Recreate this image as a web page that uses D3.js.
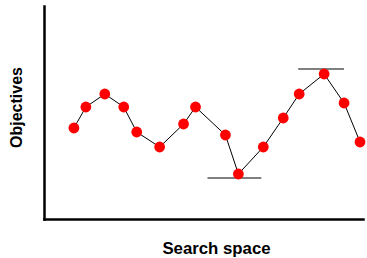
<!DOCTYPE html>
<html>
<head>
<meta charset="utf-8">
<script src="https://cdn.jsdelivr.net/npm/d3@7"></script>
<style>
  html, body { margin: 0; padding: 0; background: #fff; }
  svg { display: block; }
  text { font-family: "Liberation Sans", Arial, sans-serif; font-weight: bold; fill: #000; }
</style>
</head>
<body>
<div id="chart"></div>
<script>
  // positions along the search space and the objective value at each sample
  const searchPos = [30, 42, 61, 80, 93, 116, 140, 152, 182, 195, 220, 240, 256, 281, 301, 317];
  const objective = [91, 112, 125, 112, 87, 72, 95, 112, 84, 45, 72, 101, 125, 145, 116, 77];

  // local minimum / maximum markers: [x0, x1, y]
  const minMark = [164, 218, 41];
  const maxMark = [255, 301, 150];

  const xLabel = "Search space";
  const yLabel = "Objectives";

  const width = 367, height = 258;

  const svg = d3.select("#chart").append("svg")
    .attr("width", width)
    .attr("height", height);

  const x = d3.scaleLinear().domain([0, 320]).range([44, 363]);
  const y = d3.scaleLinear().domain([0, 213]).range([219, 6]);

  // axes without ticks, just the domain lines
  svg.append("g")
    .attr("transform", `translate(0,${y(0)})`)
    .call(d3.axisBottom(x).ticks(0).tickSizeOuter(0))
    .call(g => g.select(".domain").attr("stroke-width", 2.5).attr("stroke-linecap", "square"));

  svg.append("g")
    .attr("transform", `translate(${x(0)},0)`)
    .call(d3.axisLeft(y).ticks(0).tickSizeOuter(0))
    .call(g => g.select(".domain").attr("stroke-width", 2.5).attr("stroke-linecap", "square"));

  const pts = searchPos.map((v, i) => ({ x: v, y: objective[i] }));

  svg.append("path")
    .datum(pts)
    .attr("fill", "none")
    .attr("stroke", "#000")
    .attr("stroke-width", 1)
    .attr("d", d3.line().x(d => x(d.x)).y(d => y(d.y)));

  [minMark, maxMark].forEach(m => {
    svg.append("line")
      .attr("x1", x(m[0])).attr("x2", x(m[1]))
      .attr("y1", y(m[2])).attr("y2", y(m[2]))
      .attr("stroke", "#000")
      .attr("stroke-width", 1.2);
  });

  svg.selectAll(".dot")
    .data(pts)
    .join("circle")
    .attr("class", "dot")
    .attr("cx", d => x(d.x))
    .attr("cy", d => y(d.y))
    .attr("r", 5.4)
    .attr("fill", "#ff0000");

  svg.append("text")
    .attr("x", 216.5)
    .attr("y", 254.3)
    .attr("text-anchor", "middle")
    .attr("font-size", "16.8px")
    .text(xLabel);

  svg.append("text")
    .attr("transform", "translate(21.5,107.5) rotate(-90)")
    .attr("text-anchor", "middle")
    .attr("font-size", "16px")
    .text(yLabel);
</script>
</body>
</html>
